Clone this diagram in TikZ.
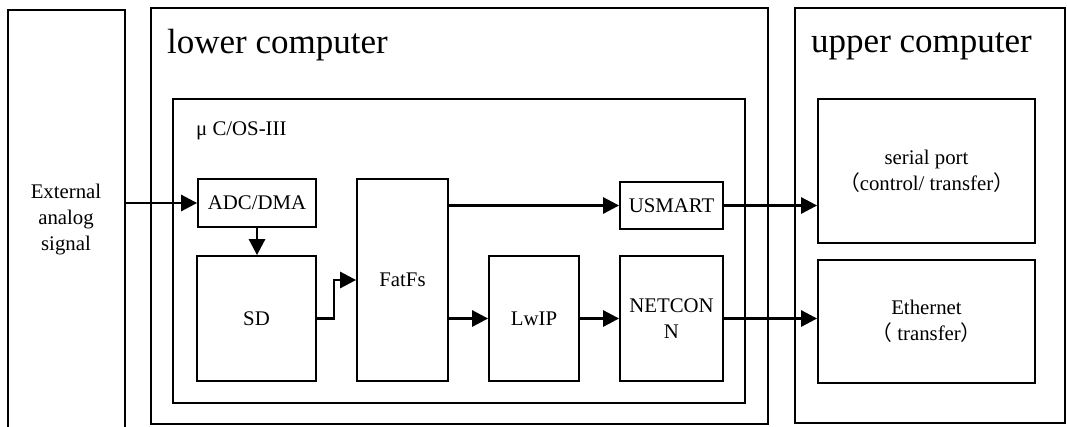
\documentclass[tikz,border=0pt]{standalone}
\usepackage{fontspec}
\setmainfont{Liberation Serif}
\newfontfamily\cjk{Noto Sans CJK SC}
\usetikzlibrary{arrows.meta}
\newcommand\fsbody{\fontsize{20.8}{26}\selectfont}
\newcommand\fsbig{\fontsize{35}{40}\selectfont}
\begin{document}
\begin{tikzpicture}[x=1pt,y=-1pt,
  outerbox/.style={draw, line width=2.8pt, inner sep=0pt},
  blk/.style={draw, line width=1.8pt, inner sep=0pt, align=center, font=\fsbody},
  lbl/.style={inner sep=0pt, align=center, font=\fsbody},
  title/.style={inner sep=0pt, anchor=base west, font=\fsbig},
  conn/.style={line width=2.8pt, -{Triangle[length=16pt,width=16pt]}}
]
\useasboundingbox (0,0) rectangle (1067,426);
\clip (0,0) rectangle (1067,426);
\fill[white] (0,0) rectangle (1067,426);

% outer boxes
\node[outerbox, minimum width=117pt, minimum height=440pt] (ext) at (66.5,230) {};
\node[lbl] (extlabel) at (66,220) {External\\analog\\signal};
\node[outerbox, minimum width=617pt, minimum height=416pt] (lower) at (459.5,216) {};
\node[outerbox, minimum width=270pt, minimum height=415pt] (upper) at (930,215.5) {};
\node[title] (lowertitle) at (167,53) {lower computer};
\node[title] (uppertitle) at (811,52) {upper computer};

% RTOS box
\node[outerbox, minimum width=572pt, minimum height=304pt] (os) at (459,251) {};
\node[inner sep=0pt, anchor=base west, font=\fsbody] (oslabel) at (196,135) {μ C/OS-III};

% blocks
\node[blk, minimum width=118pt, minimum height=48pt] (adc) at (257,203) {ADC/DMA};
\node[blk, minimum width=119pt, minimum height=125pt] (sd) at (256.5,318.5) {SD};
\node[blk, minimum width=91pt, minimum height=202pt] (fatfs) at (402.5,280) {FatFs};
\node[blk, minimum width=103pt, minimum height=47pt] (usmart) at (671.5,205.5) {USMART};
\node[blk, minimum width=90pt, minimum height=125pt] (lwip) at (534,318.5) {LwIP};
\node[blk, minimum width=103pt, minimum height=125pt] (netconn) at (671.5,318.5) {NETCON\\N};
\node[blk, minimum width=217pt, minimum height=144pt] (serial) at (926.5,171) {serial port\\{\cjk （}control/ transfer{\cjk ）}};
\node[blk, minimum width=217pt, minimum height=123pt] (eth) at (926.5,321.5) {Ethernet\\{\cjk （} transfer{\cjk ）}};

% connectors
\draw[conn] (adc.west -| ext.east) -- (adc.west);
\draw[conn] (adc.south) -- (adc.south |- sd.north);
\draw[conn] (sd.east) -- ([xshift=17pt]sd.east) |- (fatfs.west);
\draw[conn] (usmart.west -| fatfs.east) -- (usmart.west);
\draw[conn] (lwip.west -| fatfs.east) -- (lwip.west);
\draw[conn] (lwip.east) -- (netconn.west);
\draw[conn] (usmart.east) -- (usmart.east -| serial.west);
\draw[conn] (netconn.east) -- (netconn.east -| eth.west);
\end{tikzpicture}
\end{document}
